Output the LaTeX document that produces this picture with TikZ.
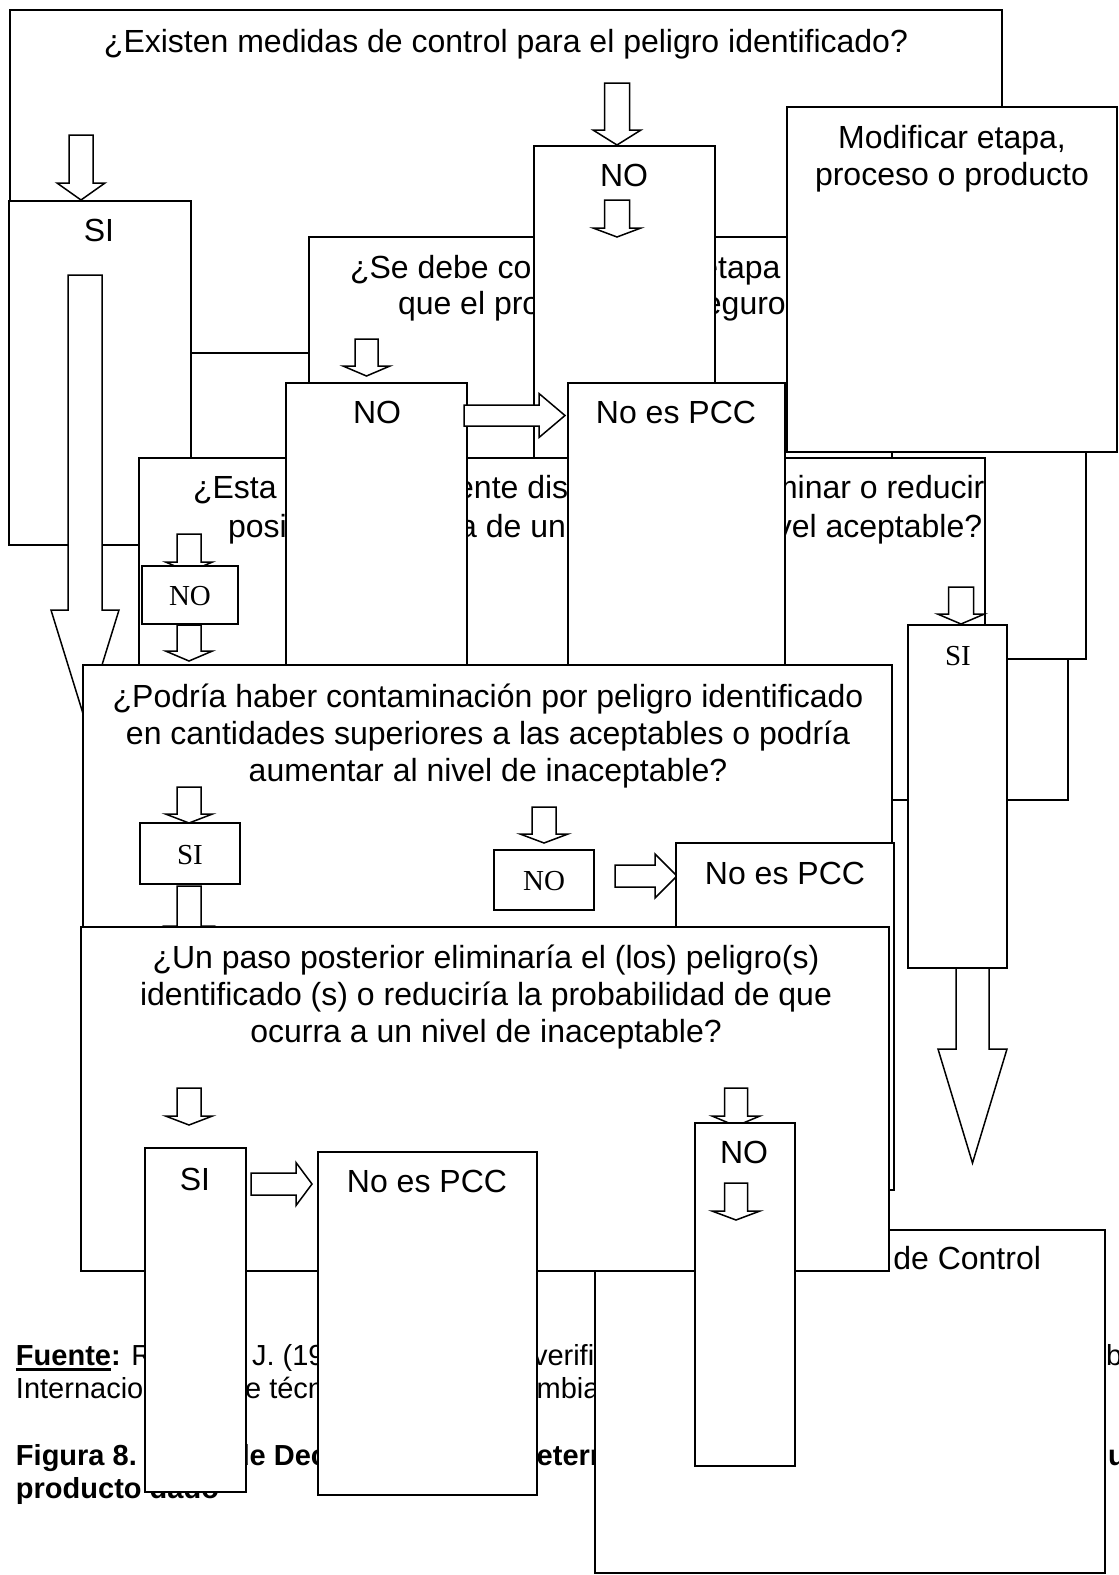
\documentclass[tikz,border=0pt]{standalone}
\usepackage{fontspec}
\setmainfont{Liberation Sans}
\newfontfamily\serifnr{Liberation Serif}
\tikzset{
  bx/.style={draw=black, fill=white, line width=1.7pt},
  blk/.style={draw=black, fill=white, line width=1.5pt, line join=miter, miter limit=20},
  lbl/.style={inner sep=0pt, outer sep=0pt, font=\fontsize{32}{37}\selectfont},
  tlbl/.style={inner sep=0pt, outer sep=0pt, font=\serifnr\fontsize{29}{33}\selectfont},
  captxt/.style={inner sep=0pt, outer sep=0pt, font=\fontsize{29}{33}\selectfont},
  captbf/.style={inner sep=0pt, outer sep=0pt, font=\fontsize{29}{33}\selectfont\bfseries},
}
\newcommand{\dnarw}[6]{% cx, top, shaft half width, head half width, head start, tip
  \filldraw[blk] ({#1-#3},#2) -- ({#1+#3},#2) -- ({#1+#3},#5) -- ({#1+#4},#5) -- (#1,#6) -- ({#1-#4},#5) -- ({#1-#3},#5) -- cycle;}
\newcommand{\rtarw}[6]{% cy, left, shaft half width, head half width, head start, tip
  \filldraw[blk] (#2,{#1-#3}) -- (#2,{#1+#3}) -- (#5,{#1+#3}) -- (#5,{#1+#4}) -- (#6,#1) -- (#5,{#1-#4}) -- (#5,{#1-#3}) -- cycle;}
\newcommand{\fuenteul}[1]{\setbox0\hbox{#1}\rlap{\rule[-5.5pt]{\wd0}{2.6pt}}\box0}
\begin{document}
\begin{tikzpicture}[x=1pt,y=-1pt]
\useasboundingbox (0,0) rectangle (1119,1575);
\fill[white] (0,0) rectangle (1119,1575);

% ---- caption (behind everything)
\node[captxt, anchor=base west] (c1a) at (16,1365) {\fuenteul{\bfseries Fuente}\textbf{:} R};
\node[captxt, anchor=base west] (c1b) at (252,1365) {J. (199};
\node[captxt, anchor=base west] (c1c) at (533,1365) {verificación};
\node[captxt, anchor=base west] (c1d) at (1106,1365) {b};
\node[captxt, anchor=base west] (c2a) at (16,1398) {Internacio};
\node[captxt, anchor=base west] (c2b) at (229,1398) {de técnicas};
\node[captxt, anchor=base west] (c2c) at (477,1398) {Colombia};
\node[captbf, anchor=base west] (c4a) at (16,1465) {Figura 8.};
\node[captbf, anchor=base west] (c4b) at (232,1465) {de Decisiones};
\node[captbf, anchor=base west] (c4c) at (519,1465) {determinar};
\node[captbf, anchor=base west] (c4d) at (1108,1465) {un};
\node[captbf, anchor=base west] (c5a) at (16,1498) {producto dado};

% ---- box A
\filldraw[bx] (10,10) rectangle (1002,353);
\node[lbl, anchor=base] (tA) at (506,52) {¿Existen medidas de control para el peligro identificado?};
\dnarw{81}{135}{12}{24}{183}{200}
\dnarw{617}{83}{12.5}{24}{130}{145}

% ---- SI left
\filldraw[bx] (9,201) rectangle (191,545);
\node[lbl, anchor=base] (tSI1) at (99,241) {SI};
\dnarw{85}{275}{17}{34}{610}{720}

% ---- Se debe controlar
\filldraw[bx] (309,237) rectangle (892,560);
\node[lbl, anchor=base west] (tB2a) at (350,278) {¿Se debe controlar esta etapa para};
\node[lbl, anchor=base west] (tB2b) at (398,314) {que el producto sea seguro?};
\dnarw{366.5}{339}{11.5}{23.5}{366}{376}

% ---- NO top
\filldraw[bx] (534,146) rectangle (715,500);
\node[lbl, anchor=base] (tNO1) at (624,186) {NO};
\dnarw{617}{200}{12.5}{24}{228}{237}

% ---- hidden boxes at right
\filldraw[bx] (892,600) rectangle (1068,800);
\filldraw[bx] (892,300) rectangle (1086,659);

% ---- Modificar
\filldraw[bx] (787,107) rectangle (1117,452);
\node[lbl, anchor=base] (tM1) at (952,148) {Modificar etapa,};
\node[lbl, anchor=base] (tM2) at (952,185) {proceso o producto};

% ---- Esta
\filldraw[bx] (139,458) rectangle (985,800);
\node[lbl, anchor=base west] (tE1) at (193,498) {¿Esta específicamente diseñada para eliminar o reducir};
\node[lbl, anchor=base west] (tE2) at (228,537) {posible presencia de un peligro a un nivel aceptable?};

\dnarw{189}{534}{12}{23.5}{562}{572}
\filldraw[bx] (142,566) rectangle (238,624);
\node[tlbl, anchor=base] (tNOs) at (190,605) {NO};
\dnarw{189}{625}{12}{23.5}{651}{661}

% ---- SI right
\dnarw{961}{587}{12.5}{23.5}{614}{624}
\filldraw[bx] (908,625) rectangle (1007,968);
\node[tlbl, anchor=base] (tSIr) at (958,665) {SI};
\dnarw{972.5}{968}{16.5}{34.5}{1049}{1163}

% ---- NO mid and No es PCC top
\filldraw[bx] (286,383) rectangle (467,700);
\node[lbl, anchor=base] (tNO2) at (377,423) {NO};
\filldraw[bx] (568,383) rectangle (785,700);
\node[lbl, anchor=base] (tPCC1) at (676,423) {No es PCC};
\rtarw{415.5}{464}{10.5}{22}{539}{565}

% ---- Podria
\filldraw[bx] (83,665) rectangle (892,1100);
\node[lbl, anchor=base] (tP1) at (488,707) {¿Podría haber contaminación por peligro identificado};
\node[lbl, anchor=base] (tP2) at (488,744) {en cantidades superiores a las aceptables o podría};
\node[lbl, anchor=base] (tP3) at (488,781) {aumentar al nivel de inaceptable?};
\dnarw{189}{787}{12}{23.5}{814}{823}
\filldraw[bx] (140,823) rectangle (240,884);
\node[tlbl, anchor=base] (tSIs) at (190,864) {SI};
\dnarw{189}{886}{12}{23.5}{926}{936}
\dnarw{544}{807}{12}{24}{834}{843}
\filldraw[bx] (494,850) rectangle (594,910);
\node[tlbl, anchor=base] (tNOs2) at (544,890) {NO};
\rtarw{876}{615}{11}{22}{655}{677}
\filldraw[bx] (676,843) rectangle (894,1190);
\node[lbl, anchor=base] (tPCC2) at (785,884) {No es PCC};

% ---- de Control
\filldraw[bx] (595,1230) rectangle (1105,1573);
\node[lbl, anchor=base east] (tPCCc) at (1041,1269) {Punto Crítico de Control};

% ---- Un paso posterior
\filldraw[bx] (81,927) rectangle (889,1271);
\node[lbl, anchor=base] (tU1) at (486,968) {¿Un paso posterior eliminaría el (los) peligro(s)};
\node[lbl, anchor=base] (tU2) at (486,1005) {identificado (s) o reduciría la probabilidad de que};
\node[lbl, anchor=base] (tU3) at (486,1042) {ocurra a un nivel de inaceptable?};
\dnarw{189}{1088}{12}{23.5}{1116}{1125}
\filldraw[bx] (145,1148) rectangle (246,1492);
\node[lbl, anchor=base] (tSI3) at (195,1190) {SI};
\rtarw{1184}{251}{11}{21.5}{296}{312}
\filldraw[bx] (318,1152) rectangle (537,1495);
\node[lbl, anchor=base] (tPCC3) at (427,1192) {No es PCC};
\dnarw{736}{1088}{11.5}{24}{1116}{1126}
\filldraw[bx] (695,1123) rectangle (795,1466);
\node[lbl, anchor=base] (tNO3) at (744,1163) {NO};
\dnarw{736}{1183}{11.5}{24}{1211}{1220}
\end{tikzpicture}
\end{document}
